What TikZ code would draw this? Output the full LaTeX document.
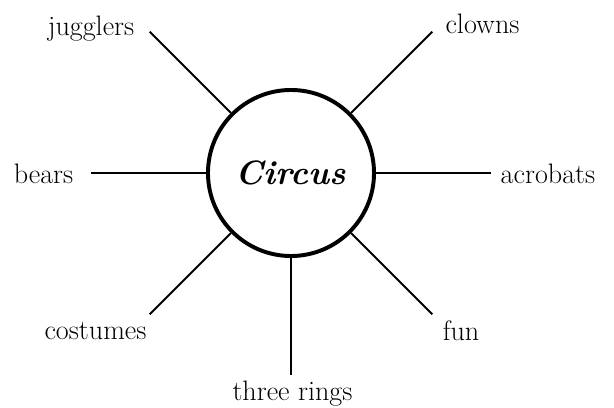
\documentclass[tikz,border=0pt]{standalone}
\usepackage{tkz-euclide}
\tikzset{spoke/.style={line width=1.4pt},
  word/.style={font=\fontsize{20}{24}\selectfont,inner sep=0pt},
  hub/.style={circle,draw,line width=2.8pt,minimum size=4.15cm,inner sep=0pt,
    font=\fontsize{24}{28}\selectfont\bfseries\itshape}}

\begin{document}
\begin{tikzpicture}[scale=.025]
\useasboundingbox (-291,-235) rectangle (323,173);

\tkzDefPoints{0/0/O}
\tkzDefPoint(135:200){J}
\tkzDefPoint(45:200){K}
\tkzDefPoint(180:200){B}
\tkzDefPoint(0:200){A}
\tkzDefPoint(225:200){C}
\tkzDefPoint(-45:200){F}
\tkzDefPoint(270:202){R}

\node[hub] (circus) at (O) {Circus};

\draw[spoke] (circus.135) -- (J);
\draw[spoke] (circus.45) -- (K);
\draw[spoke] (circus.180) -- (B);
\draw[spoke] (circus.0) -- (A);
\draw[spoke] (circus.225) -- (C);
\draw[spoke] (circus.-45) -- (F);
\draw[spoke] (circus.270) -- (R);

\node[word] (jugglers) at (-200,144) {jugglers};
\node[word] (clowns) at (191.5,149.5) {clowns};
\node[word] (bears) at (-247.5,-0.5) {bears};
\node[word] (acrobats) at (257,-0.5) {acrobats};
\node[word] (costumes) at (-195.5,-157.5) {costumes};
\node[word] (fun) at (170,-157.5) {fun};
\node[word] (rings) at (1.5,-220.5) {three rings};

\end{tikzpicture}
\end{document}
